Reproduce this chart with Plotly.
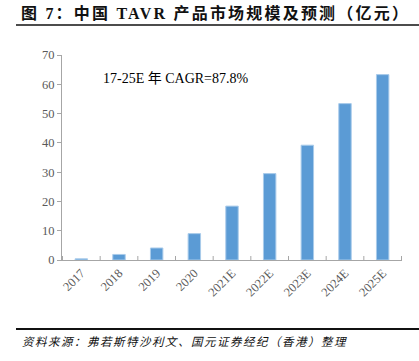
import plotly.graph_objects as go

years = ["2017", "2018", "2019", "2020", "2021E", "2022E", "2023E", "2024E", "2025E"]
market_size = [0.41, 1.9, 4.1, 9.0, 18.4, 29.5, 39.2, 53.4, 63.3]
y_ticks = [0, 10, 20, 30, 40, 50, 60, 70]

title_text = "图 7：中国 TAVR 产品市场规模及预测（亿元）"
cagr_text = "17-25E 年 CAGR=87.8%"
source_text = "资料来源：弗若斯特沙利文、国元证券经纪（香港）整理"

W, H = 419, 361
L, R, T, B = 62, 17, 55, 101
pw, ph = W - L - R, H - T - B

def px(x):
    return (x - L) / pw

def py(y):
    return (H - B - y) / ph

SERIF = "Liberation Serif, Noto Sans CJK SC, serif"

fig = go.Figure()
fig.add_trace(go.Bar(
    x=years, y=market_size,
    marker=dict(color="#5B9BD5", line=dict(color="#A9CBEA", width=1)),
    width=0.33,
))

fig.update_layout(
    width=W, height=H,
    margin=dict(l=L, r=R, t=T, b=B, autoexpand=False),
    paper_bgcolor="white", plot_bgcolor="white",
    showlegend=False,
    font=dict(family=SERIF, color="#595959", size=12),
    xaxis=dict(
        showline=True, linecolor="#A6A6A6", linewidth=1, automargin=False,
        ticks="", tickangle=-45, tickfont=dict(size=12.5, color="#595959"),
        showgrid=False,
    ),
    yaxis=dict(
        range=[0, 70], tickvals=y_ticks, showline=True, linecolor="#A6A6A6",
        linewidth=1, ticks="outside", ticklen=4, tickcolor="#A6A6A6",
        automargin=False,
        showgrid=False, zeroline=False, tickfont=dict(size=12.5, color="#595959"),
    ),
)

# category-boundary ticks on x axis (inside)
for i in range(len(years) + 1):
    fig.add_shape(type="line", xref="x", yref="paper",
                  x0=i - 0.5, x1=i - 0.5, y0=0, y1=4 / ph,
                  line=dict(color="#A6A6A6", width=1))

# title
fig.add_annotation(text="<span style='letter-spacing:2.2px'><b>" + title_text + "</b></span>",
                   xref="paper", yref="paper",
                   x=px(19), y=py(13), xanchor="left", yanchor="middle",
                   showarrow=False, font=dict(family=SERIF, size=16, color="#111111"))
# rules
fig.add_shape(type="line", xref="paper", yref="paper",
              x0=px(16), x1=px(419), y0=py(25), y1=py(25),
              line=dict(color="#111111", width=1.5))
fig.add_shape(type="line", xref="paper", yref="paper",
              x0=px(16), x1=px(419), y0=py(329), y1=py(329),
              line=dict(color="#111111", width=2))
# CAGR annotation
fig.add_annotation(text=cagr_text, xref="paper", yref="paper",
                   x=px(101), y=py(78), xanchor="left", yanchor="middle",
                   showarrow=False, font=dict(family=SERIF, size=14, color="#000000"))
# source
fig.add_annotation(text="<span style='letter-spacing:1.5px'><i>" + source_text + "</i></span>",
                   xref="paper", yref="paper",
                   x=px(20), y=py(342), xanchor="left", yanchor="middle",
                   showarrow=False, font=dict(family=SERIF, size=11.5, color="#111111"))

fig.write_html("out.html", config={"displayModeBar": False},
               post_script="document.body.style.margin='0';document.body.style.overflow='hidden';")
